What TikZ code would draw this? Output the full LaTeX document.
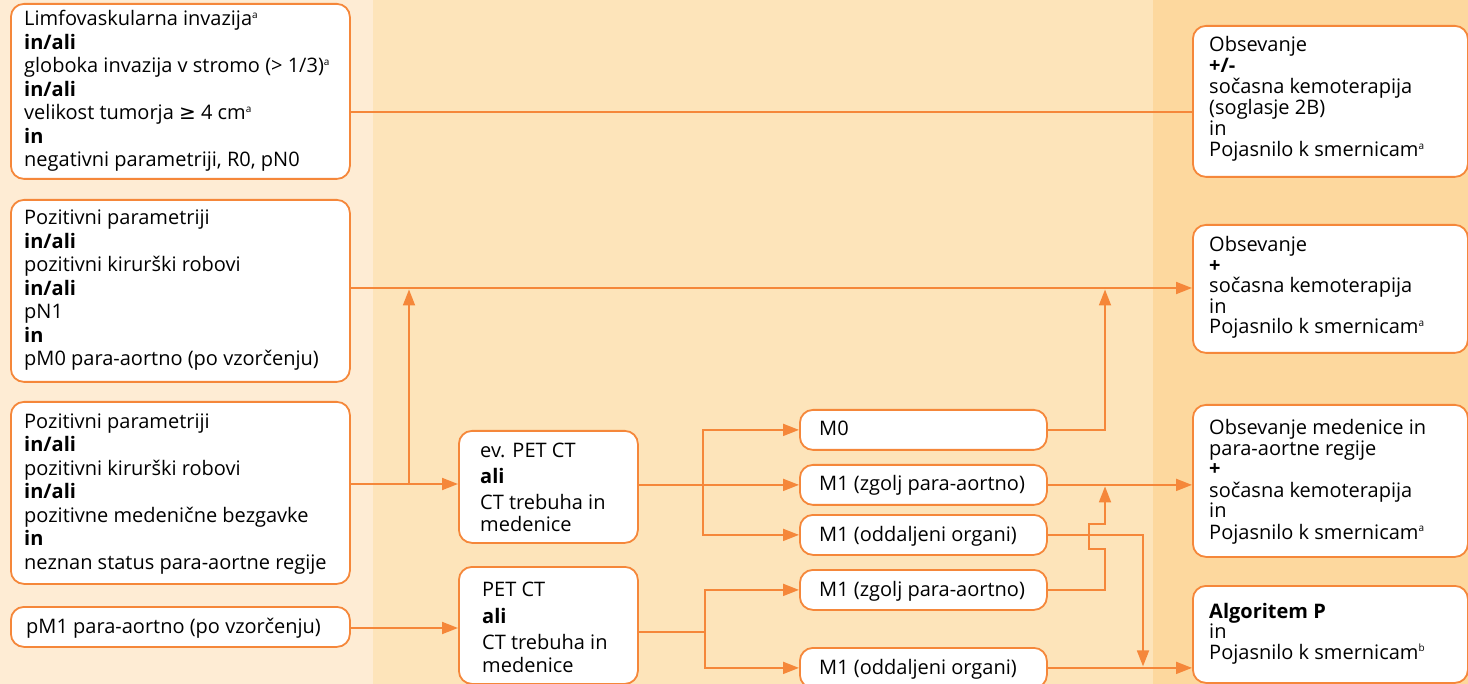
\documentclass[tikz,border=0pt]{standalone}
\usepackage{fontspec}
\setmainfont{Open Sans}
\newfontfamily\symf{DejaVu Sans}
\usetikzlibrary{arrows.meta,calc}
\definecolor{oc}{HTML}{F5873A}
\definecolor{bgL}{HTML}{FEECD4}
\definecolor{bgM}{HTML}{FDE4BA}
\definecolor{bgR}{HTML}{FDD89E}
\newcommand\supa[1]{\textsuperscript{\fontsize{10}{10}\selectfont #1}}
\begin{document}
\begin{tikzpicture}[x=1pt,y=-1pt,
  box/.style={draw=oc, line width=1.8pt, rounded corners=13pt, fill=white, inner sep=0pt, anchor=north west},
  tl/.style={inner sep=0pt, anchor=base west, align=left, font=\fontsize{20}{23.5}\selectfont},
  tr/.style={inner sep=0pt, anchor=base west, align=left, font=\fontsize{20}{21}\selectfont},
  tm/.style={inner sep=0pt, anchor=base west, align=left, font=\fontsize{20}{21}\selectfont},
  ln/.style={draw=oc, line width=1.8pt, line cap=rect},
  ar/.style={ln, -{Triangle[length=16pt,width=12pt]}},
]
\useasboundingbox (0,0) rectangle (1468,684);
\fill[bgL] (0,0) rectangle (373,684);
\fill[bgM] (373,0) rectangle (1153,684);
\fill[bgR] (1153,0) rectangle (1468,684);

% left boxes
\node[box, minimum width=339pt, minimum height=175pt] (b1) at (10,3) {};
\node[box, minimum width=339pt, minimum height=182pt] (b2) at (10,199) {};
\node[box, minimum width=339pt, minimum height=182pt] (b3) at (10,401) {};
\node[box, minimum width=339pt, minimum height=40pt] (b4) at (10,606) {};
% middle boxes
\node[box, minimum width=179pt, minimum height=112pt] (p1) at (458,430) {};
\node[box, minimum width=179pt, minimum height=117pt] (p2) at (458,566) {};
\node[box, minimum width=247pt, minimum height=40pt] (m0) at (799,409) {};
\node[box, minimum width=247pt, minimum height=40pt] (m1) at (799,464) {};
\node[box, minimum width=247pt, minimum height=40pt] (m2) at (799,514) {};
\node[box, minimum width=247pt, minimum height=40pt] (m3) at (799,569) {};
\node[box, minimum width=247pt, minimum height=40pt] (m4) at (799,647) {};
% right boxes
\node[box, minimum width=275pt, minimum height=151pt] (r1) at (1192,25) {};
\node[box, minimum width=275pt, minimum height=128pt] (r2) at (1192,224) {};
\node[box, minimum width=275pt, minimum height=152pt] (r3) at (1192,404) {};
\node[box, minimum width=275pt, minimum height=97pt] (r4) at (1192,585) {};

% texts (anchor = baseline of last line)
\node[tl] (tb1) at (24,167) {Limfovaskularna invazija\supa{a}\\ \textbf{in/ali}\\ globoka invazija v stromo (> 1/3)\supa{a}\\ \textbf{in/ali}\\ velikost tumorja {\symf ≥} 4 cm\supa{a}\\ \textbf{in}\\ negativni parametriji, R0, pN0};
\node[tl] (tb2) at (24,366) {Pozitivni parametriji\\ \textbf{in/ali}\\ pozitivni kirurški robovi\\ \textbf{in/ali}\\ pN1\\ \textbf{in}\\ pM0 para-aortno (po vzorčenju)};
\node[tl] (tb3) at (24,569) {Pozitivni parametriji\\ \textbf{in/ali}\\ pozitivni kirurški robovi\\ \textbf{in/ali}\\ pozitivne medenične bezgavke\\ \textbf{in}\\ neznan status para-aortne regije};
\node[tl] (tb4) at (26,633) {pM1 para-aortno (po vzorčenju)};

\node[tm] (tp1) at (480,532) {ev. PET CT\\[5pt] \textbf{ali}\\[5pt] CT trebuha in\\[1pt] medenice};
\node[tm] (tp2) at (482,672) {PET CT\\[6pt] \textbf{ali}\\[5pt] CT trebuha in\\[2pt] medenice};

\node[tm] (tm0) at (819,436) {M0};
\node[tm] (tm1) at (819,491) {M1 (zgolj para-aortno)};
\node[tm] (tm2) at (819,541) {M1 (oddaljeni organi)};
\node[tm] (tm3) at (819,596) {M1 (zgolj para-aortno)};
\node[tm] (tm4) at (819,674) {M1 (oddaljeni organi)};

\node[tr] (tr1) at (1209,157) {Obsevanje\\ \textbf{+/-}\\ sočasna kemoterapija\\ (soglasje 2B)\\ in\\ Pojasnilo k smernicam\supa{a}};
\node[tr] (tr2) at (1209,334) {Obsevanje\\[-0.5pt] \textbf{+}\\[-0.5pt] sočasna kemoterapija\\[-0.5pt] in\\[-0.5pt] Pojasnilo k smernicam\supa{a}};
\node[tr] (tr3) at (1209,539) {Obsevanje medenice in\\ para-aortne regije\\ \textbf{+}\\ sočasna kemoterapija\\ in\\ Pojasnilo k smernicam\supa{a}};
\node[tr] (tr4) at (1209,659) {\textbf{Algoritem P}\\[-0.5pt] in\\[-0.5pt] Pojasnilo k smernicam\supa{b}};

% helper coordinates
\coordinate (L1) at (0,112);
\coordinate (L2) at (0,288);
\coordinate (L3) at (0,484);
\coordinate (L4) at (0,628);
\coordinate (L5) at (0,632);
\coordinate (J3) at (409,484);
\coordinate (J3t) at (409,289.5);
\coordinate (S1) at (703,0);
\coordinate (S2) at (705,0);
\coordinate (K0) at (1105,0);
\coordinate (Kt) at (1105,289.5);
\coordinate (X2) at (1143,0);
\coordinate (Q1) at (1105,549);
\coordinate (Q2) at (1089,549);
\coordinate (Q3) at (1089,524);
\coordinate (Q4) at (1105,524);

% connectors
\draw[ln] (b1.east |- L1) -- (r1.west |- L1);
\draw[ar] (b2.east |- L2) -- (r2.west |- L2);
\draw[ar] (b3.east |- L3) -- (p1.west |- L3);
\draw[ar] (J3) -- (J3t);
\draw[ar] (b4.east |- L4) -- (p2.west |- L4);

\draw[ln] (p1.east |- m1.west) -- (S1 |- m1.west);
\draw[ln] (S1 |- m0.west) -- (S1 |- m2.west);
\draw[ar] (S1 |- m0.west) -- (m0.west);
\draw[ar] (S1 |- m1.west) -- (m1.west);
\draw[ar] (S1 |- m2.west) -- (m2.west);

\draw[ln] (p2.east |- L5) -- (S2 |- L5);
\draw[ln] (S2 |- m3.west) -- (S2 |- m4.west);
\draw[ar] (S2 |- m3.west) -- (m3.west);
\draw[ar] (S2 |- m4.west) -- (m4.west);

\draw[ar] (m0.east) -- (K0 |- m0.east) -- (Kt);
\draw[ar] (m1.east) -- (r3.west |- m1.east);
\draw[ar] (m3.east) -- (K0 |- m3.east) -- (Q1) -- (Q2) -- (Q3) -- (Q4) -- ($(K0 |- m1.east)+(0,1.5)$);
\draw[ar] (m2.east) -- (X2 |- m2.east) -- ($(X2 |- m4.east)+(0,-1.5)$);
\draw[ar] (m4.east) -- (r4.west |- m4.east);
\end{tikzpicture}
\end{document}
